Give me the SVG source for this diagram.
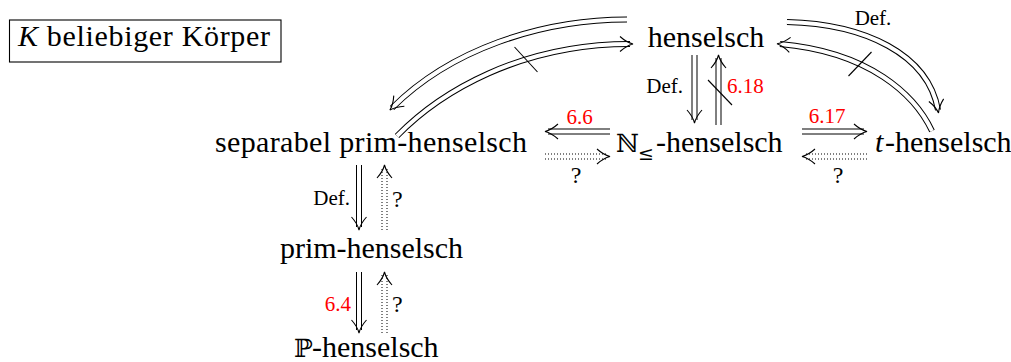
<svg xmlns="http://www.w3.org/2000/svg" width="1011" height="362" viewBox="0 0 1011 362">
<style>
.t{font-family:"Liberation Serif","Times New Roman",serif;font-size:30px;fill:#000}
.m{font-family:"DejaVu Serif","DejaVu Sans",serif;font-size:25px}
.l{font-family:"Liberation Serif","Times New Roman",serif;font-size:21px;fill:#000}
.q{font-size:24px}
.r{fill:#f00}
.o{fill:none;stroke:#000;stroke-width:6}
.od{fill:none;stroke:#000;stroke-width:6;stroke-dasharray:1 2}
.i{fill:none;stroke:#fff;stroke-width:4;marker-end:url(#imp)}
.s{stroke:#000;stroke-width:1.1;fill:none}
</style>
<defs>
<marker id="imp" viewBox="-16 -9 20 18" markerWidth="20" markerHeight="18" refX="-3" refY="0" orient="auto" markerUnits="userSpaceOnUse" overflow="visible">
<path d="M-13,-7.5 C-8,-3 -4,-1 0,0 C-4,1 -8,3 -13,7.5" fill="none" stroke="#000" stroke-width="1.1"/>
</marker>
</defs>
<rect width="1011" height="362" fill="#fff"/>

<g id="title">
<rect x="9.5" y="20" width="271.5" height="42" fill="none" stroke="#000" stroke-width="1.1"/>
<text class="t" x="18" y="46" textLength="252" lengthAdjust="spacing"><tspan font-style="italic">K</tspan> beliebiger Körper</text>
</g>

<g id="connectors">
<!-- curve A: henselsch to separabel -->
<path class="o" d="M627,19.5 C540,19.5 450,50 392,108"/>
<path class="i" d="M627,19.5 C540,19.5 450,50 392,108"/>
<!-- curve B: separabel to henselsch (struck) -->
<path class="o" d="M397,136 C440,92 520,44 630,44"/>
<path class="i" d="M397,136 C440,92 520,44 630,44"/>
<line class="s" x1="514.5" y1="47" x2="537.5" y2="72"/>
<!-- curve C: henselsch to t-henselsch -->
<path class="o" d="M787,22 C865,24 928,54 938,110"/>
<path class="i" d="M787,22 C865,24 928,54 938,110"/>
<!-- curve D: t-henselsch to henselsch (struck) -->
<path class="o" d="M932,131 C915,95 870,52 780,44"/>
<path class="i" d="M932,131 C915,95 870,52 780,44"/>
<line class="s" x1="848.5" y1="76" x2="871.5" y2="52"/>
<!-- henselsch <-> N -->
<path class="o" d="M694.5,55 V120"/>
<path class="i" d="M694.5,55 V120"/>
<path class="o" d="M718.5,125 V58"/>
<path class="i" d="M718.5,125 V58"/>
<line class="s" x1="708" y1="80" x2="732" y2="105"/>
<!-- N -> separabel -->
<path class="o" d="M610,131.5 H548"/>
<path class="i" d="M610,131.5 H548"/>
<path class="od" d="M545,156.5 H607"/>
<path class="i" d="M545,156.5 H607"/>
<!-- N -> t -->
<path class="o" d="M802,131.5 H864"/>
<path class="i" d="M802,131.5 H864"/>
<path class="od" d="M867,156.5 H805"/>
<path class="i" d="M867,156.5 H805"/>
<!-- separabel <-> prim -->
<path class="o" d="M359,165 V227"/>
<path class="i" d="M359,165 V227"/>
<path class="od" d="M384.5,230 V168"/>
<path class="i" d="M384.5,230 V168"/>
<!-- prim <-> P -->
<path class="o" d="M359,272 V330"/>
<path class="i" d="M359,272 V330"/>
<path class="od" d="M384.5,333 V275"/>
<path class="i" d="M384.5,333 V275"/>
</g>

<g id="labels">
<text class="l" x="873" y="25" text-anchor="middle">Def.</text>
<text class="l" x="683" y="93" text-anchor="end">Def.</text>
<text class="l r" x="727" y="93">6.18</text>
<text class="l r" x="579.5" y="124" text-anchor="middle">6.6</text>
<text class="l q" x="576" y="183" text-anchor="middle">?</text>
<text class="l r" x="827" y="123" text-anchor="middle">6.17</text>
<text class="l q" x="838" y="183" text-anchor="middle">?</text>
<text class="l" x="350" y="205" text-anchor="end">Def.</text>
<text class="l q" x="392" y="207">?</text>
<text class="l r" x="351" y="311" text-anchor="end">6.4</text>
<text class="l q" x="392" y="312">?</text>
</g>

<g id="n-henselsch">
<text class="t" x="706" y="47" text-anchor="middle">henselsch</text>
</g>
<g id="n-separabel">
<text class="t" x="215" y="152" textLength="312" lengthAdjust="spacing">separabel prim-henselsch</text>
</g>
<g id="n-N">
<text class="t"><tspan class="m" x="616" y="152">ℕ</tspan><tspan x="638" y="160" font-family="DejaVu Serif, serif" font-size="19">≤</tspan><tspan x="656" y="152">-henselsch</tspan></text>
</g>
<g id="n-t">
<text class="t" y="152"><tspan x="875" font-style="italic">t</tspan><tspan x="885">-henselsch</tspan></text>
</g>
<g id="n-prim">
<text class="t" x="280" y="258" textLength="183" lengthAdjust="spacing">prim-henselsch</text>
</g>
<g id="n-P">
<text class="t" y="357"><tspan class="m" x="294">ℙ</tspan><tspan x="312">-henselsch</tspan></text>
</g>
</svg>
